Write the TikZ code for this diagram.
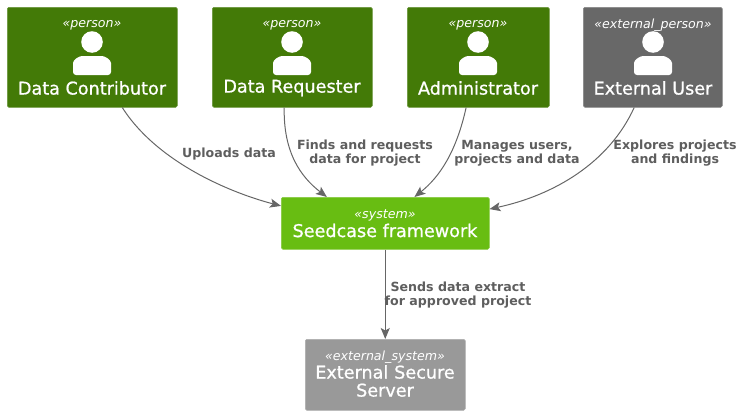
\documentclass[tikz,border=0pt]{standalone}
\usepackage{fontspec}
\setmainfont{DejaVu Sans}
\newfontfamily\titlefont[FakeBold=0.8]{DejaVu Sans}
\usetikzlibrary{arrows.meta,calc}
\definecolor{persongreen}{HTML}{437A07}
\definecolor{sysgreen}{HTML}{68BD12}
\definecolor{extperson}{HTML}{686868}
\definecolor{extsys}{HTML}{999999}
\definecolor{linkgray}{HTML}{666666}
\definecolor{labelgray}{HTML}{5E5E5E}
\tikzset{
  box/.style={rounded corners=1.5pt,inner sep=0pt,text=white,align=center,anchor=north west},
  personbox/.style={box,fill=persongreen,draw=persongreen!80!white,line width=.5pt},
  stereo/.style={text=white,font=\fontsize{12.6}{14}\selectfont\itshape,inner sep=0pt},
  title/.style={text=white,font=\titlefont\fontsize{17.6}{18}\selectfont,align=center,inner sep=0pt},
  link/.style={draw=linkgray,line width=1pt,-{Stealth[length=11pt,width=9pt,inset=2.5pt]}},
  linklabel/.style={text=labelgray,font=\fontsize{12.6}{14}\selectfont\bfseries,align=center,inner sep=0pt},
  pics/personicon/.style={code={
    \fill[white] (0,0) circle (10.8pt);
    \fill[white,rounded corners=3pt] (-19,33) -- (-19,24) .. controls (-19,18) and (-13,14) .. (-7,14) -- (7,14) .. controls (13,14) and (19,18) .. (19,24) -- (19,33) -- cycle;
  }}
}
\begin{document}
\begin{tikzpicture}[x=1pt,y=-1pt]
\useasboundingbox (0,0) rectangle (744,415);
\node[personbox,minimum width=170pt,minimum height=100pt] (dc) at (7,7) {};
\node[personbox,minimum width=160pt,minimum height=100pt] (dr) at (212,7) {};
\node[personbox,minimum width=142pt,minimum height=100pt] (ad) at (407,7) {};
\node[personbox,fill=extperson,draw=extperson!80!white,minimum width=139pt,minimum height=100pt] (eu) at (583,7) {};
\node[personbox,fill=sysgreen,draw=sysgreen!80!white,minimum width=208pt,minimum height=52pt] (sc) at (281,197) {};
\node[personbox,fill=extsys,draw=extsys!80!white,minimum width=160pt,minimum height=71pt] (ex) at (305,339) {};

\node[stereo] (s1) at (92,25) {«person»};
\node[stereo] (s2) at (292,25) {«person»};
\node[stereo] (s3) at (478,25) {«person»};
\node[stereo] (s4) at (653,25) {«external\_person»};
\node[stereo] (s5) at (385,215) {«system»};
\node[stereo] (s6) at (385,357) {«external\_system»};

\path (92,42) pic {personicon};
\path (292,42) pic {personicon};
\path (478,42) pic {personicon};
\path (653,42) pic {personicon};

\node[title] (t1) at (92,88) {Data Contributor};
\node[title] (t2) at (292,88) {Data Requester};
\node[title] (t3) at (478,88) {Administrator};
\node[title] (t4) at (653,88) {External User};
\node[title] (t5) at (385,230.5) {Seedcase framework};
\node[title,text width=160pt] (t6) at (385,381) {External Secure\\Server};

\draw[link] ($(dc.south west)!0.676!(dc.south east)$) .. controls +(35,55) and +(-50,-13) .. ($(sc.north west)!0.17!(sc.south west)$);
\draw[link] ($(dr.south west)!0.45!(dr.south east)$) .. controls +(-1,45) and +(-26,-20) .. ($(sc.north west)!0.22!(sc.north east)$);
\draw[link] ($(ad.south west)!0.415!(ad.south east)$) .. controls +(-10,45) and +(25,-20) .. ($(sc.north west)!0.64!(sc.north east)$);
\draw[link] ($(eu.south west)!0.367!(eu.south east)$) .. controls +(-25,55) and +(65,-14) .. ($(sc.north east)!0.23!(sc.south east)$);
\draw[link] (sc.south) -- (ex.north);

\node[linklabel] (l1) at (229,154.5) {Uploads data};
\node[linklabel] (l2) at (365,153) {Finds and requests\\data for project};
\node[linklabel] (l3) at (517,153) {Manages users,\\projects and data};
\node[linklabel] (l4) at (675,153) {Explores projects\\and findings};
\node[linklabel] (l5) at (458,295.5) {Sends data extract\\for approved project};
\end{tikzpicture}
\end{document}
